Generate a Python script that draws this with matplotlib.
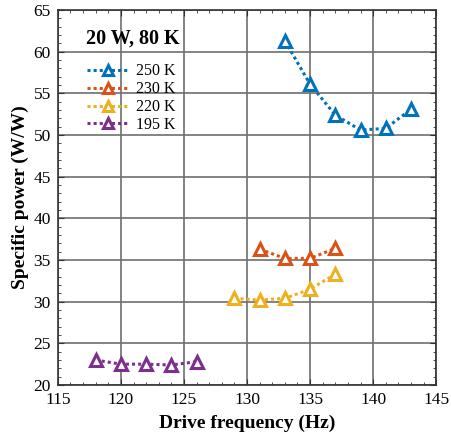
import matplotlib
matplotlib.use("Agg")
import matplotlib.pyplot as plt
from matplotlib.ticker import MultipleLocator

# drive frequency (Hz) and specific power (W/W) for each reject temperature
freq_250 = [133, 135, 137, 139, 141, 143]
power_250 = [61.3, 56.1, 52.4, 50.6, 50.8, 53.1]

freq_230 = [131, 133, 135, 137]
power_230 = [36.3, 35.2, 35.2, 36.4]

freq_220 = [129, 131, 133, 135, 137]
power_220 = [30.4, 30.2, 30.4, 31.5, 33.3]

freq_195 = [118, 120, 122, 124, 126]
power_195 = [23.0, 22.5, 22.5, 22.4, 22.8]

labels = ["250 K", "230 K", "220 K", "195 K"]
colors = ["#0072BD", "#D95319", "#EDB120", "#7E2F8E"]

plt.rcParams["font.family"] = ["Liberation Serif", "DejaVu Serif"]

fig = plt.figure(figsize=(4.52, 4.38), dpi=100)
ax = fig.add_axes([0.128, 0.121, 0.837, 0.856])

series = [(freq_250, power_250), (freq_230, power_230),
          (freq_220, power_220), (freq_195, power_195)]
for (x, y), lab, c in zip(series, labels, colors):
    ax.plot(x, y, linestyle=(0, (1, 1)), linewidth=2.2, color=c,
            marker="^", markersize=8.5, markerfacecolor="white",
            markeredgecolor=c, markeredgewidth=2.2, label=lab)

ax.set_xlim(115, 145)
ax.set_ylim(20, 65)
ax.xaxis.set_major_locator(MultipleLocator(5))
ax.yaxis.set_major_locator(MultipleLocator(5))
ax.xaxis.set_minor_locator(MultipleLocator(1))
ax.yaxis.set_minor_locator(MultipleLocator(1))
ax.tick_params(which="both", direction="in", top=True, right=True,
               labelsize=12.5, color="#333333", pad=5)
ax.tick_params(which="major", length=4)
ax.tick_params(which="minor", length=2.5)
ax.grid(True, which="major", color="#6e6e6e", linewidth=1.2)
ax.set_axisbelow(True)
for sp in ax.spines.values():
    sp.set_color("#333333")
    sp.set_linewidth(1.2)

ax.set_xlabel("Drive frequency (Hz)", fontsize=14, fontweight="bold", labelpad=5)
ax.set_ylabel("Specific power (W/W)", fontsize=14, fontweight="bold", labelpad=3)

ax.text(0.075, 0.925, "20 W, 80 K", transform=ax.transAxes,
        fontsize=14.5, fontweight="bold", va="center", ha="left")

ax.legend(loc="upper left", bbox_to_anchor=(0.06, 0.875), frameon=False,
          fontsize=11.5, handlelength=2.6, handletextpad=0.5,
          labelspacing=0.12, borderaxespad=0, markerscale=0.9)

fig.savefig("out.png", dpi=100)
